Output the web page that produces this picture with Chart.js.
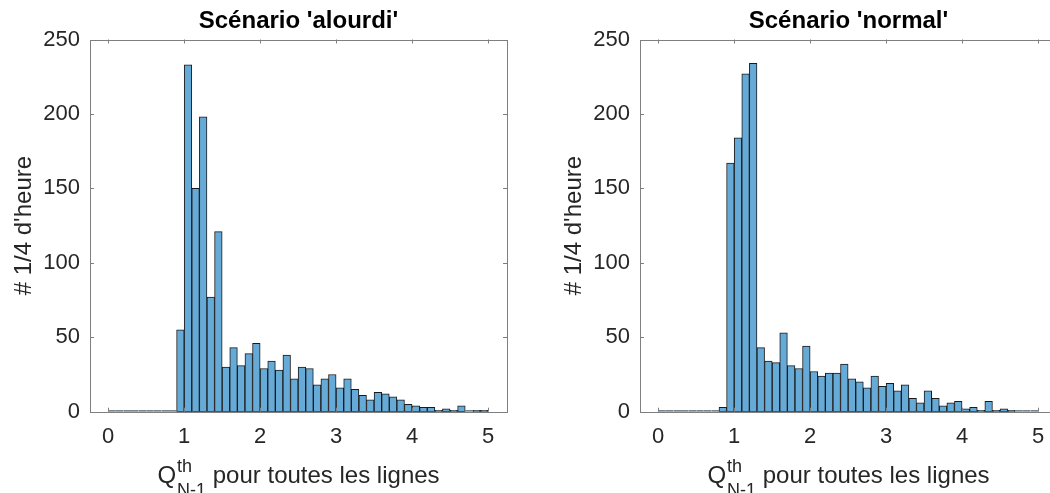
<!DOCTYPE html>
<html>
<head>
<meta charset="utf-8">
<script src="https://cdn.jsdelivr.net/npm/chart.js@4.4.1/dist/chart.umd.min.js"></script>
<style>
  html, body { margin: 0; padding: 0; background: #fff; overflow: hidden; }
  .panel { position: absolute; top: 0; }
</style>
</head>
<body>
<div class="panel" style="left:0"><canvas id="leftChart" width="525" height="493"></canvas></div>
<div class="panel" style="left:525px"><canvas id="rightChart" width="545" height="493"></canvas></div>
<script>
// Histogram bins: 0 to 5, width 0.1
const binStart = 0;
const binWidth = 0.1;

// Counts per bin, scenario 'alourdi'
const countsAlourdi = [
  0, 0, 0, 0, 0, 0, 0, 0, 0, 55,
  233, 150, 198, 77, 121, 30, 43, 31, 39, 46,
  29, 34, 28, 38, 22, 30, 29, 18, 22, 25,
  16, 22, 15, 11, 8, 13, 12, 10, 8, 5,
  4, 3, 3, 1, 2, 1, 4, 0, 1, 1
];

// Counts per bin, scenario 'normal'
const countsNormal = [
  0, 0, 0, 0, 0, 0, 0, 0, 3, 167,
  184, 227, 234, 43, 34, 33, 53, 31, 29, 44,
  27, 24, 26, 26, 32, 22, 20, 16, 24, 17,
  19, 14, 18, 9, 6, 14, 9, 4, 6, 7,
  2, 3, 1, 7, 1, 2, 1, 0, 0, 0
];

const xTicks = [0, 1, 2, 3, 4, 5];
const yTicks = [0, 50, 100, 150, 200, 250];
const titles = ["Scénario 'alourdi'", "Scénario 'normal'"];
const yLabel = "# 1/4 d'heure";

const FONT = "'Liberation Sans', Arial, Helvetica, sans-serif";
const TEXT = '#262626';
const FRAME = '#7f7f7f';

function toPoints(counts) {
  return counts.map((c, i) => ({ x: binStart + (i + 0.5) * binWidth, y: c }));
}

// box, inward ticks and the Q^th_N-1 axis label
const matlabAxes = {
  id: 'matlabAxes',
  afterDraw(chart) {
    const { ctx, chartArea: a, scales } = chart;
    ctx.save();
    ctx.strokeStyle = FRAME;
    ctx.lineWidth = 1;
    ctx.strokeRect(Math.round(a.left) + 0.5, Math.round(a.top) + 0.5,
      Math.round(a.right - a.left), Math.round(a.bottom - a.top));
    ctx.beginPath();
    xTicks.forEach(v => {
      const px = Math.round(scales.x.getPixelForValue(v)) + 0.5;
      ctx.moveTo(px, a.bottom); ctx.lineTo(px, a.bottom - 4);
      ctx.moveTo(px, a.top); ctx.lineTo(px, a.top + 4);
    });
    yTicks.forEach(v => {
      const py = Math.round(scales.y.getPixelForValue(v)) + 0.5;
      ctx.moveTo(a.left, py); ctx.lineTo(a.left + 4, py);
      ctx.moveTo(a.right, py); ctx.lineTo(a.right - 4, py);
    });
    ctx.stroke();

    // x label
    const big = '24px ' + FONT, small = '18px ' + FONT;
    const rest = ' pour toutes les lignes';
    ctx.font = big;
    const wQ = ctx.measureText('Q').width;
    const wRest = ctx.measureText(rest).width;
    ctx.font = small;
    const wSub = Math.max(ctx.measureText('th').width, ctx.measureText('N-1').width);
    const total = wQ + 1 + wSub + wRest;
    let x = (a.left + a.right) / 2 - total / 2;
    const base = 483;
    ctx.fillStyle = TEXT;
    ctx.textBaseline = 'alphabetic';
    ctx.textAlign = 'left';
    ctx.font = big;
    ctx.fillText('Q', x, base);
    x += wQ + 1;
    ctx.font = small;
    ctx.fillText('th', x, base - 11);
    ctx.fillText('N-1', x, base + 13);
    x += wSub;
    ctx.font = big;
    ctx.fillText(rest, x, base);
    ctx.restore();
  }
};

function makeChart(id, counts, title, padLeft, padRight) {
  return new Chart(document.getElementById(id), {
    type: 'bar',
    data: {
      datasets: [{
        data: toPoints(counts),
        backgroundColor: 'rgb(102,170,215)',
        borderColor: '#1a1a1a',
        // empty bins show only as a flat edge on the baseline
        borderWidth: c => (c.raw && c.raw.y === 0)
          ? { top: 1, left: 0, right: 0, bottom: 0 } : 1,
        borderSkipped: false,
        barPercentage: 1,
        categoryPercentage: 1,
        minBarLength: 1
      }]
    },
    options: {
      responsive: false,
      animation: false,
      layout: { padding: { left: padLeft, right: padRight, top: 0, bottom: 0 } },
      plugins: {
        legend: { display: false },
        tooltip: { enabled: false },
        title: {
          display: true,
          text: title,
          fullSize: false,
          color: '#000',
          font: { family: FONT, size: 24, weight: 'bold', lineHeight: 1.2 },
          padding: { top: 7, bottom: 3.7 }
        }
      },
      scales: {
        x: {
          type: 'linear',
          min: -0.24,
          max: 5.25,
          offset: false,
          grid: { display: false, drawTicks: false, offset: false },
          border: { display: false },
          afterBuildTicks: s => { s.ticks = xTicks.map(v => ({ value: v })); },
          afterFit: s => { s.height = 81.3; },
          ticks: {
            color: TEXT,
            padding: 12,
            maxRotation: 0,
            autoSkip: false,
            font: { family: FONT, size: 22, lineHeight: 1.2 }
          }
        },
        y: {
          min: 0,
          max: 250,
          grid: { display: false, drawTicks: false },
          border: { display: false },
          afterBuildTicks: s => { s.ticks = yTicks.map(v => ({ value: v })); },
          afterFit: s => { s.width = 90; },
          title: {
            display: true,
            text: yLabel,
            color: TEXT,
            font: { family: FONT, size: 24, lineHeight: 1.2 },
            padding: { top: 10, bottom: 0 }
          },
          ticks: {
            color: TEXT,
            padding: 10,
            font: { family: FONT, size: 22, lineHeight: 1.2 }
          }
        }
      }
    },
    plugins: [matlabAxes]
  });
}

makeChart('leftChart', countsAlourdi, titles[0], 0, 18);
// right panel is clipped by the window edge, as in the reference
makeChart('rightChart', countsNormal, titles[1], 25, 13);
</script>
</body>
</html>
